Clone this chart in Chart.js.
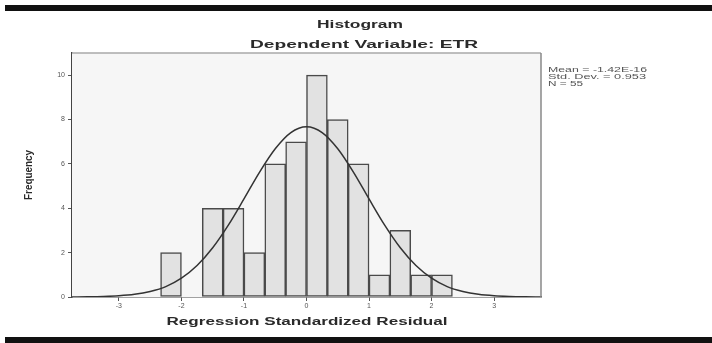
<!DOCTYPE html>
<html>
<head>
<meta charset="utf-8">
<script src="https://cdn.jsdelivr.net/npm/chart.js@4/dist/chart.umd.min.js"></script>
<style>
  body { margin: 0; background: #fff; }
  #wrap { position: relative; width: 712px; height: 343px; overflow: hidden; }
  #myChart { position: absolute; left: 0; top: 0; }
  .band { position: absolute; left: 5px; right: 0; height: 6px; background: #111; }
</style>
</head>
<body>
<div id="wrap">
  <canvas id="myChart" width="712" height="343"></canvas>
  <div class="band" style="top:5px"></div>
  <div class="band" style="top:337px"></div>
</div>
<script>
// histogram bins (centres of 1/3-wide bins) and their counts
const binCentres = [-2.1667, -1.8333, -1.5, -1.1667, -0.8333, -0.5, -0.1667, 0.1667, 0.5, 0.8333, 1.1667, 1.5, 1.8333, 2.1667];
const counts = [2, 0, 4, 4, 2, 6, 7, 10, 8, 6, 1, 3, 1, 1];

// normal curve
const curveX = [-3.75, -3.5, -3.25, -3, -2.75, -2.5, -2.25, -2, -1.75, -1.5, -1.25, -1, -0.75, -0.5, -0.25, 0,
                0.25, 0.5, 0.75, 1, 1.25, 1.5, 1.75, 2, 2.25, 2.5, 2.75, 3, 3.25, 3.5, 3.75];
const curveY = [0.003, 0.009, 0.023, 0.054, 0.12, 0.25, 0.47, 0.85, 1.42, 2.22, 3.24, 4.42, 5.63, 6.68, 7.41, 7.67,
                7.41, 6.68, 5.63, 4.42, 3.24, 2.22, 1.42, 0.85, 0.47, 0.25, 0.12, 0.054, 0.023, 0.009, 0.003];

const yTicks = [0, 2, 4, 6, 8, 10];
const xTicks = [-3, -2, -1, 0, 1, 2, 3];

const titleLines = ['Histogram', 'Dependent Variable: ETR'];
const statLines = ['Mean = -1.42E-16', 'Std. Dev. = 0.953', 'N = 55'];
const xTitle = 'Regression Standardized Residual';
const yTitle = 'Frequency';

// draws text squeezed/stretched to a given width
function wideText(ctx, text, x, y, w, font, align) {
    ctx.save();
    ctx.font = font;
    const natural = ctx.measureText(text).width;
    const sx = w / natural;
    ctx.translate(x, y);
    ctx.scale(sx, 1);
    ctx.textBaseline = 'middle';
    ctx.textAlign = align || 'center';
    ctx.fillText(text, 0, 0);
    ctx.restore();
}

const frame = {
    id: 'frame',
    beforeDatasetsDraw(chart) {
        const { ctx, chartArea: a } = chart;
        ctx.save();
        ctx.fillStyle = '#f6f6f6';
        ctx.fillRect(a.left, a.top, a.right - a.left, a.bottom - a.top);
        ctx.restore();
    },
    afterDraw(chart) {
        const { ctx, chartArea: a } = chart;
        ctx.save();
        ctx.strokeStyle = '#a8a8a8';
        ctx.lineWidth = 1.5;
        ctx.beginPath();
        ctx.moveTo(a.left, a.top);
        ctx.lineTo(a.right, a.top);
        ctx.stroke();
        ctx.strokeStyle = '#888';
        ctx.beginPath();
        ctx.moveTo(a.right, a.top);
        ctx.lineTo(a.right, a.bottom);
        ctx.stroke();

        ctx.fillStyle = '#2a2a2a';
        wideText(ctx, titleLines[0], 360, 25, 86, 'bold 11px "Liberation Sans"');
        wideText(ctx, titleLines[1], 364, 45, 228, 'bold 11px "Liberation Sans"');
        wideText(ctx, xTitle, 307, 322, 281, 'bold 10px "Liberation Sans"');

        ctx.save();
        ctx.translate(29, 175);
        ctx.rotate(-Math.PI / 2);
        wideText(ctx, yTitle, 0, 0, 50, 'bold 10px "Liberation Sans"');
        ctx.restore();

        ctx.fillStyle = '#555';
        wideText(ctx, statLines[0], 548, 70, 99, '7px "Liberation Sans"', 'left');
        wideText(ctx, statLines[1], 548, 77, 98, '7px "Liberation Sans"', 'left');
        wideText(ctx, statLines[2], 548, 84, 35, '7px "Liberation Sans"', 'left');
        ctx.restore();
    }
};

const ctx = document.getElementById('myChart').getContext('2d');
const myChart = new Chart(ctx, {
    type: 'bar',
    data: {
        datasets: [
            {
                type: 'line',
                data: curveX.map((x, i) => ({ x: x, y: curveY[i] })),
                borderColor: '#333',
                borderWidth: 1.5,
                pointRadius: 0,
                cubicInterpolationMode: 'monotone',
                fill: false,
                order: 0
            },
            {
                type: 'bar',
                data: binCentres.map((x, i) => ({ x: x, y: counts[i] || null })),
                backgroundColor: '#e2e2e2',
                borderColor: '#4a4a4a',
                borderWidth: 1.5,
                borderSkipped: false,
                barPercentage: 1,
                categoryPercentage: 1,
                order: 1
            }
        ]
    },
    options: {
        responsive: false,
        animation: false,
        layout: { padding: { left: 0, top: 53, right: 171, bottom: 0 } },
        plugins: { legend: { display: false }, tooltip: { enabled: false } },
        scales: {
            x: {
                type: 'linear',
                min: -3.75,
                max: 3.75,
                offset: false,
                afterBuildTicks: s => { s.ticks = xTicks.map(v => ({ value: v })); },
                afterFit: s => { s.height = 46; },
                grid: { offset: false, drawOnChartArea: false, drawTicks: true, tickLength: 4, color: '#555' },
                border: { display: true, color: '#444', width: 1.5 },
                ticks: { font: { size: 7, family: 'Liberation Sans' }, color: '#555', padding: 1, maxRotation: 0 }
            },
            y: {
                min: 0,
                max: 11,
                afterBuildTicks: s => { s.ticks = yTicks.map(v => ({ value: v })); },
                afterFit: s => { s.width = 72; },
                grid: { drawOnChartArea: false, drawTicks: true, tickLength: 4, color: '#555' },
                border: { display: true, color: '#444', width: 1.5 },
                ticks: { font: { size: 7, family: 'Liberation Sans' }, color: '#555', padding: 3 }
            }
        }
    },
    plugins: [frame]
});
</script>
</body>
</html>
